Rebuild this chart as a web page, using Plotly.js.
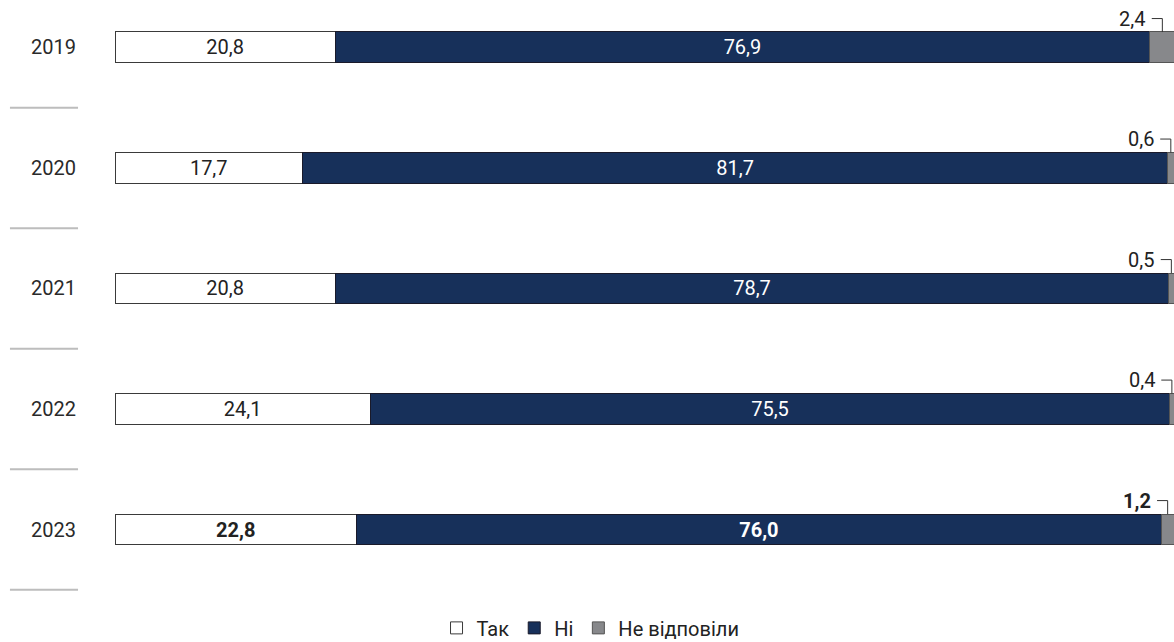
<!DOCTYPE html>
<html>
<head>
<meta charset="utf-8">
<script src="https://cdn.plot.ly/plotly-3.0.1.min.js"></script>
<style>html,body{margin:0;padding:0;background:#fff;}#chart{width:1174px;height:642px;}</style>
</head>
<body>
<div id="chart"></div>
<script>
const years = ['2019', '2020', '2021', '2022', '2023'];
const tak = [20.8, 17.7, 20.8, 24.1, 22.8];
const ni = [76.9, 81.7, 78.7, 75.5, 76.0];
const noAnswer = [2.4, 0.6, 0.5, 0.4, 1.2];
const seriesNames = ['Так', 'Ні', 'Не відповіли'];
const boldRow = 4;

const rows = years.map((_, i) => i);
const fmt = (v, i) => {
  const s = v.toFixed(1).replace('.', ',');
  return i === boldRow ? '<b>' + s + '</b>' : s;
};

const FONT = 'Roboto, "Liberation Sans", sans-serif';
const YFONT = 'Roboto, sans-serif';
const lineCol = '#3a3a3a';

const traces = [
  {
    type: 'bar', orientation: 'h', name: seriesNames[0],
    y: rows, x: tak, width: 0.257,
    marker: {color: '#ffffff', line: {color: lineCol, width: 1}},
    text: tak.map(fmt), textposition: 'inside', insidetextanchor: 'middle',
    textangle: 0, constraintext: 'none',
    insidetextfont: {family: FONT, size: 20, color: '#222'},
    hoverinfo: 'skip'
  },
  {
    type: 'bar', orientation: 'h', name: seriesNames[1],
    y: rows, x: ni, width: 0.257,
    marker: {color: '#17305a', line: {color: '#1a1a2a', width: 1}},
    text: ni.map(fmt), textposition: 'inside', insidetextanchor: 'middle',
    textangle: 0, constraintext: 'none',
    insidetextfont: {family: FONT, size: 20, color: '#ffffff'},
    hoverinfo: 'skip'
  },
  {
    type: 'bar', orientation: 'h', name: seriesNames[2],
    y: rows, x: noAnswer, width: 0.257,
    marker: {color: '#87888b', line: {color: '#555', width: 1}},
    textposition: 'none',
    hoverinfo: 'skip'
  }
];

// bracket leader lines from small labels to the grey segment
const bx = [], by = [];
rows.forEach(i => {
  const c = tak[i] + ni[i] + noAnswer[i] / 2;
  bx.push(c - 1.0, c, c, null);
  by.push(i - 0.24, i - 0.24, i - 0.128, null);
});
traces.push({
  type: 'scatter', mode: 'lines', x: bx, y: by,
  line: {color: '#333', width: 1}, showlegend: false, hoverinfo: 'skip'
});

const annotations = rows.map(i => ({
  x: tak[i] + ni[i] + noAnswer[i] / 2, y: i - 0.24,
  xref: 'x', yref: 'y', xanchor: 'right', yanchor: 'middle',
  xshift: -15, showarrow: false,
  text: fmt(noAnswer[i], i),
  font: {family: FONT, size: 20, color: '#222'}
}));

const shapes = rows.map(i => ({
  type: 'line', xref: 'paper', yref: 'y',
  x0: -0.0992, x1: -0.0349, y0: i + 0.5, y1: i + 0.5,
  line: {color: '#bdbdbd', width: 2}
}));

const layout = {
  width: 1174, height: 642,
  margin: {l: 115, r: 0, t: 0, b: 42, pad: 0},
  paper_bgcolor: '#fff', plot_bgcolor: '#fff',
  barmode: 'stack',
  showlegend: true,
  xaxis: {range: [0, 100], visible: false, fixedrange: true},
  yaxis: {
    range: [4.585, -0.394], tickvals: rows, ticktext: years,
    showgrid: false, zeroline: false, showline: false, ticks: '',
    ticklabelstandoff: 38,
    tickfont: {family: YFONT, size: 20, color: '#2a2a2a'}
  },
  legend: {
    orientation: 'h', xref: 'container', yref: 'container',
    traceorder: 'normal',
    x: 0.503, xanchor: 'center', y: 0.022, yanchor: 'middle',
    font: {family: FONT, size: 20, color: '#222'},
    itemwidth: 30, tracegroupgap: 0
  },
  annotations: annotations,
  shapes: shapes
};

Plotly.newPlot('chart', traces, layout, {displayModeBar: false, staticPlot: true});
</script>
</body>
</html>
